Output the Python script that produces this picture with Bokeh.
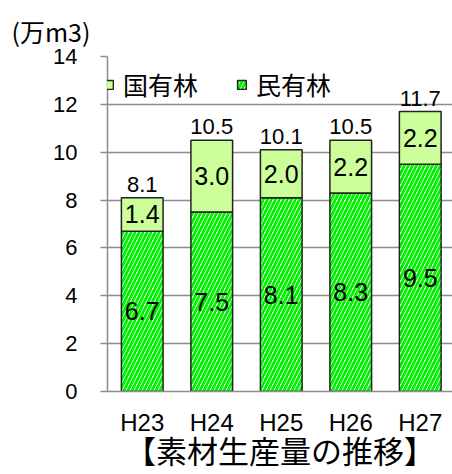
from bokeh.plotting import figure
from bokeh.models import (ColumnDataSource, Range1d, FixedTicker, LabelSet,
                          Legend, LegendItem, Title)
from bokeh.core.properties import value
from bokeh.embed import file_html
from bokeh.resources import INLINE

# Timber production (10,000 m3) by fiscal year
years = ["H23", "H24", "H25", "H26", "H27"]
private_forest = [6.7, 7.5, 8.1, 8.3, 9.5]   # 民有林
national_forest = [1.4, 3.0, 2.0, 2.2, 2.2]  # 国有林
y_ticks = [0, 2, 4, 6, 8, 10, 12, 14]

REG_FONT = "'Liberation Sans', Arial, sans-serif"
JP_FONT = "'Noto Sans CJK JP', sans-serif"

xs = list(range(len(years)))
totals = [round(a + b, 1) for a, b in zip(private_forest, national_forest)]

source = ColumnDataSource(dict(
    x=xs,
    private=private_forest,
    national=national_forest,
))

p = figure(width=452, height=474, output_backend="svg", toolbar_location=None,
           x_range=Range1d(-0.5, 4.464), y_range=Range1d(0, 14),
           min_border_left=107, min_border_right=0,
           min_border_top=56, min_border_bottom=82)
p.outline_line_color = None
p.background_fill_color = "white"
p.border_fill_color = "white"

# grid
p.xgrid.grid_line_color = None
p.ygrid.grid_line_color = "#8c8c8c"
p.ygrid.grid_line_width = 1.5
p.ygrid.ticker = FixedTicker(ticks=y_ticks)

# y axis
p.yaxis.ticker = FixedTicker(ticks=y_ticks)
p.yaxis.axis_line_color = "#8c8c8c"
p.yaxis.axis_line_width = 1.5
p.yaxis.major_tick_line_color = "#8c8c8c"
p.yaxis.major_tick_line_width = 1.5
p.yaxis.major_tick_out = 7
p.yaxis.major_tick_in = 0
p.yaxis.minor_tick_line_color = None
p.yaxis.major_label_standoff = 23
p.yaxis.major_label_text_font = REG_FONT
p.yaxis.major_label_text_font_size = "22px"
p.yaxis.major_label_text_color = "black"

# x axis, with the chart caption as its axis label
p.xaxis.ticker = FixedTicker(ticks=xs)
p.xaxis.major_label_overrides = {i: y for i, y in zip(xs, years)}
p.xaxis.axis_line_color = "#8c8c8c"
p.xaxis.axis_line_width = 1.5
p.xaxis.major_tick_line_color = None
p.xaxis.minor_tick_line_color = None
p.xaxis.major_tick_out = 0
p.xaxis.major_tick_in = 0
p.xaxis.major_label_standoff = 17
p.xaxis.major_label_text_font = REG_FONT
p.xaxis.major_label_text_font_size = "24px"
p.xaxis.major_label_text_color = "black"
p.xaxis.axis_label = "【素材生産量の推移】"
p.xaxis.axis_label_standoff = -12
p.xaxis.axis_label_text_font = JP_FONT
p.xaxis.axis_label_text_font_size = "31px"
p.xaxis.axis_label_text_font_style = "normal"
p.xaxis.axis_label_text_color = "black"

# stacked bars
renderers = p.vbar_stack(
    ["private", "national"], x="x", width=0.6, source=source,
    fill_color=["white", "#ccff99"],
    hatch_pattern=["/", " "],
    hatch_color="#00f000",
    hatch_scale=8,
    hatch_weight=2.8,
    line_color="#222222", line_width=1.5,
)

# segment value labels
seg_src = ColumnDataSource(dict(
    x=xs + xs,
    y=[v / 2 for v in private_forest] + [a + b / 2 for a, b in zip(private_forest, national_forest)],
    text=[f"{v:.1f}" for v in private_forest] + [f"{v:.1f}" for v in national_forest],
))
p.add_layout(LabelSet(x="x", y="y", text="text", source=seg_src,
                      text_align="center", text_baseline="middle",
                      text_font=value(REG_FONT), text_font_size="25px",
                      text_color="black"))

# total labels above the bars
tot_src = ColumnDataSource(dict(x=xs, y=totals, text=[f"{v:.1f}" for v in totals]))
p.add_layout(LabelSet(x="x", y="y", text="text", source=tot_src,
                      text_align="center", text_baseline="bottom", y_offset=6,
                      text_font=value(REG_FONT), text_font_size="22px",
                      text_color="black"))

# legend
legend = Legend(items=[LegendItem(label="国有林", renderers=[renderers[1]]),
                       LegendItem(label="民有林", renderers=[renderers[0]])],
                orientation="horizontal", location=(-4, 289),
                glyph_width=11, glyph_height=11, label_standoff=9, spacing=38,
                padding=0, margin=0,
                border_line_color=None, background_fill_alpha=0,
                label_text_font=JP_FONT, label_text_font_size="25px",
                label_text_color="black")
p.add_layout(legend)

# unit label
p.add_layout(Title(text="(万m3)", align="left", offset=-96, standoff=16,
                   text_font=JP_FONT, text_font_size="25px",
                   text_font_style="normal", text_color="black"), "above")

open("out.html", "w").write(file_html(p, INLINE))
